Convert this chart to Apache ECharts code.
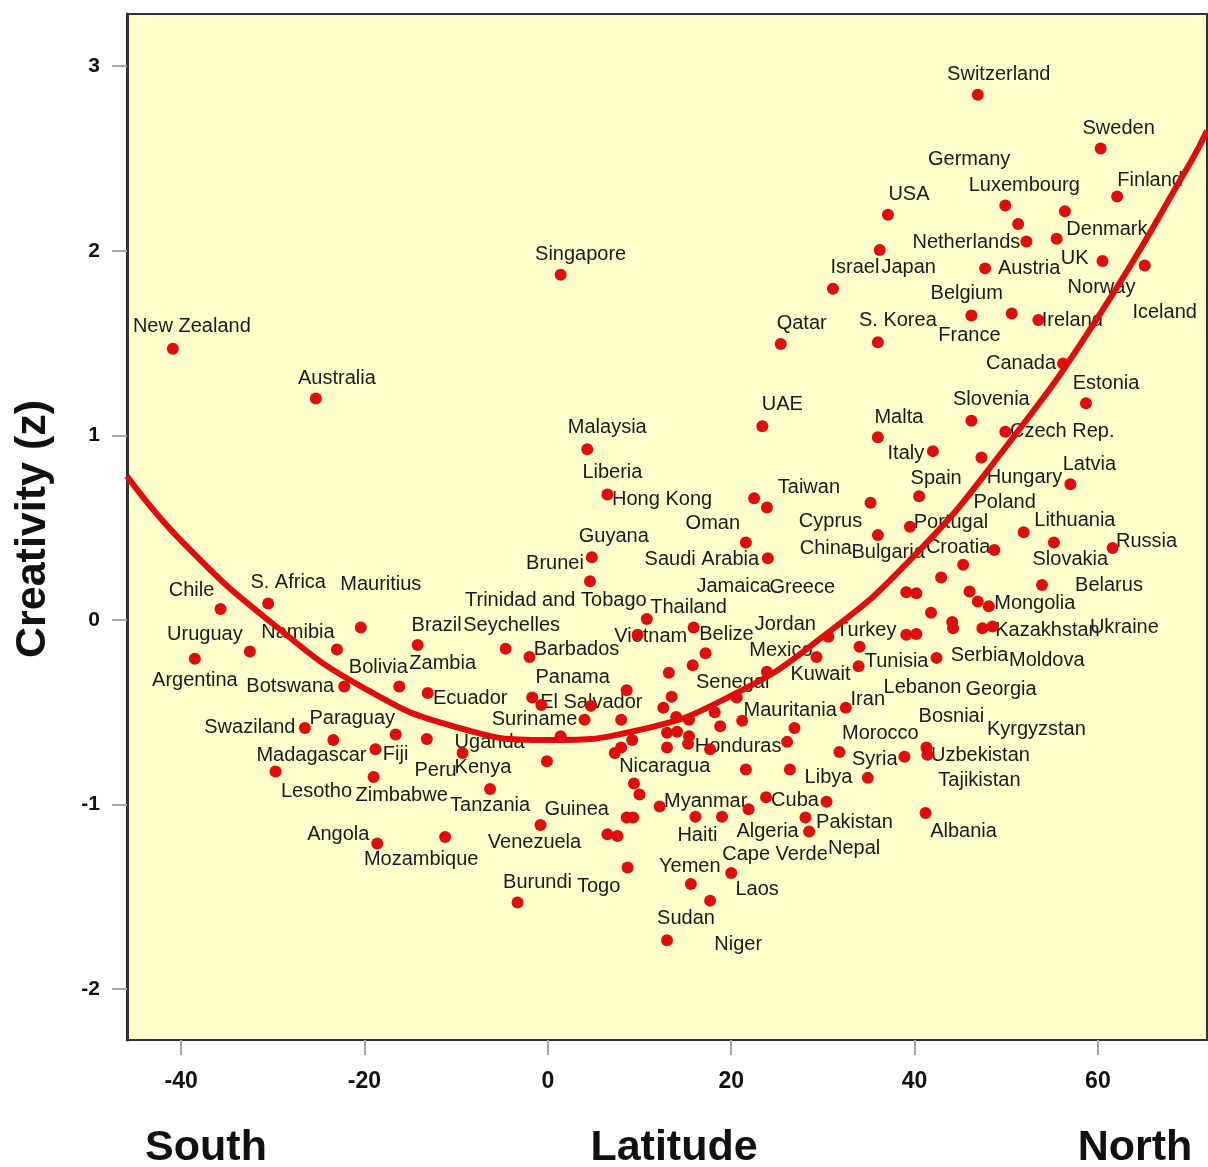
<!DOCTYPE html>
<html>
<head>
<meta charset="utf-8">
<script src="https://cdn.jsdelivr.net/npm/echarts@6/dist/echarts.min.js"></script>
<style>
html,body{margin:0;padding:0;background:#fff;}
#chart{width:1208px;height:1167px;}
</style>
</head>
<body>
<div id="chart"></div>
<script>
// ---------- data (latitude, creativity z) ----------
const xTicks = [-40, -20, 0, 20, 40, 60];
const yTicks = [-2, -1, 0, 1, 2, 3];

const southern = [
  ['New Zealand', -40.9, 1.47], ['Australia', -25.3, 1.20], ['Chile', -35.7, 0.06],
  ['S. Africa', -30.5, 0.09], ['Mauritius', -20.4, -0.04], ['Argentina', -38.5, -0.21],
  ['Uruguay', -32.5, -0.17], ['Namibia', -23.0, -0.16], ['Brazil', -14.2, -0.135],
  ['Botswana', -22.2, -0.36], ['Bolivia', -16.2, -0.36], ['Zambia', -13.1, -0.395],
  ['Swaziland', -26.5, -0.585], ['Paraguay', -23.4, -0.65], ['Fiji', -16.6, -0.62],
  ['', -13.2, -0.645], ['Madagascar', -18.8, -0.70], ['Lesotho', -29.7, -0.82],
  ['Zimbabwe', -19.0, -0.85], ['Angola', -18.6, -1.21], ['Mozambique', -11.2, -1.175],
  ['Peru', -9.3, -0.72], ['Tanzania', -6.3, -0.915], ['Burundi', -3.3, -1.53],
  ['Venezuela', -0.8, -1.11], ['Seychelles', -4.6, -0.155], ['Barbados', -2.0, -0.20],
  ['Ecuador', -1.7, -0.42], ['', -0.7, -0.46], ['Kenya', -0.1, -0.765]
];

const tropics = [
  ['Singapore', 1.4, 1.87], ['Uganda', 1.4, -0.63], ['Suriname', 4.0, -0.54],
  ['', 4.7, -0.465], ['Guyana', 4.8, 0.34], ['Brunei', 4.6, 0.21],
  ['Malaysia', 4.3, 0.925], ['Liberia', 6.5, 0.68], ['Trinidad and Tobago', 10.8, 0.005],
  ['Thailand', 15.9, -0.04], ['Vietnam', 9.8, -0.08], ['Belize', 17.2, -0.18],
  ['Jamaica', 15.8, -0.245], ['', 13.2, -0.285], ['Panama', 8.6, -0.38],
  ['', 13.5, -0.415], ['El Salvador', 12.6, -0.475], ['', 8.0, -0.54],
  ['', 14.0, -0.525], ['', 15.4, -0.54], ['', 18.2, -0.50],
  ['Senegal', 20.6, -0.42], ['', 18.8, -0.575], ['Mauritania', 21.2, -0.545],
  ['', 13.0, -0.61], ['', 14.1, -0.605], ['', 15.4, -0.63],
  ['', 15.3, -0.67], ['Honduras', 17.7, -0.70], ['', 13.0, -0.69],
  ['', 9.2, -0.65], ['', 8.0, -0.69], ['Nicaragua', 7.3, -0.72],
  ['', 9.4, -0.885], ['', 10.0, -0.945], ['Myanmar', 12.2, -1.01],
  ['Guinea', 8.6, -1.07], ['', 9.3, -1.07], ['Haiti', 16.1, -1.065],
  ['Cape Verde', 19.0, -1.065], ['', 6.5, -1.16], ['', 7.6, -1.17],
  ['Togo', 8.7, -1.34], ['Niger', 20.0, -1.37], ['Yemen', 15.6, -1.43],
  ['Laos', 17.7, -1.52], ['Sudan', 13.0, -1.735], ['Hong Kong', 22.5, 0.66],
  ['Taiwan', 23.9, 0.61], ['Oman', 21.6, 0.42], ['Saudi Arabia', 24.0, 0.335],
  ['UAE', 23.4, 1.05], ['Qatar', 25.4, 1.495], ['Mexico', 23.9, -0.28],
  ['', 21.6, -0.81], ['Cuba', 23.8, -0.96], ['Algeria', 21.9, -1.025]
];

const middle = [
  ['Kuwait', 29.3, -0.20], ['Jordan', 30.6, -0.09], ['Turkey', 39.1, -0.08],
  ['Bosniai', 40.2, -0.075], ['Lebanon', 34.0, -0.145], ['Tunisia', 33.9, -0.25],
  ['Serbia', 42.4, -0.205], ['Iran', 32.5, -0.475], ['', 26.9, -0.585],
  ['', 26.1, -0.66], ['Morocco', 31.8, -0.715], ['Tajikistan', 38.9, -0.74],
  ['Uzbekistan', 41.3, -0.69], ['Kyrgyzstan', 41.4, -0.73], ['', 26.4, -0.81],
  ['Syria', 34.9, -0.855], ['Libya', 30.4, -0.985], ['Pakistan', 28.1, -1.07],
  ['Nepal', 28.5, -1.145], ['Albania', 41.2, -1.045], ['Cyprus', 35.2, 0.635],
  ['China', 36.0, 0.46], ['Israel', 31.1, 1.795], ['Japan', 36.2, 2.005],
  ['USA', 37.1, 2.195], ['S. Korea', 36.0, 1.505], ['Malta', 36.0, 0.99]
];

const europe = [
  ['Italy', 42.0, 0.915], ['Spain', 40.5, 0.67], ['Portugal', 39.5, 0.505],
  ['Bulgaria', 42.9, 0.23], ['Croatia', 45.3, 0.30], ['Slovakia', 48.7, 0.38],
  ['Greece', 39.1, 0.15], ['', 40.2, 0.145], ['', 46.0, 0.155],
  ['Moldova', 46.9, 0.10], ['Mongolia', 48.1, 0.075], ['Georgia', 41.8, 0.04],
  ['', 44.1, -0.01], ['', 44.2, -0.045], ['Ukraine', 47.4, -0.045],
  ['Kazakhstan', 48.5, -0.035], ['Slovenia', 46.2, 1.08], ['Hungary', 47.3, 0.88],
  ['Czech Rep.', 49.9, 1.02], ['Poland', 51.9, 0.475], ['Lithuania', 55.2, 0.42],
  ['Russia', 61.6, 0.39], ['Belarus', 53.9, 0.19], ['Latvia', 57.0, 0.735],
  ['Estonia', 58.7, 1.175], ['Canada', 56.2, 1.39], ['Switzerland', 46.9, 2.845],
  ['Sweden', 60.3, 2.555], ['Finland', 62.1, 2.295], ['Luxembourg', 49.9, 2.245],
  ['Germany', 51.3, 2.145], ['Denmark', 56.4, 2.215], ['Netherlands', 52.2, 2.05],
  ['UK', 55.5, 2.065], ['Norway', 60.5, 1.945], ['Iceland', 65.1, 1.92],
  ['Austria', 47.7, 1.905], ['Belgium', 50.6, 1.66], ['France', 46.2, 1.65],
  ['Ireland', 53.5, 1.625]
];

// quadratic fit curve
const curveLat = [-45.9, -40, -30, -20, -10, 0, 10, 20, 30, 40, 50, 60, 70, 71.9];
const curveZ   = [0.78, 0.43, -0.02, -0.37, -0.58, -0.65, -0.595, -0.41, -0.09, 0.35, 0.94, 1.64, 2.47, 2.65];

// ---------- label placement (pixel offsets from the dot) ----------
const labelOffsets = {
  'New Zealand':[19,-22],'Australia':[21,-20],'Singapore':[20,-20],'Chile':[-29,-18],
  'S. Africa':[20,-21],'Mauritius':[20,-43],'Argentina':[0,22],'Uruguay':[-45,-17],
  'Namibia':[-39,-17],'Brazil':[19,-19],'Botswana':[-54,0],'Bolivia':[-21,-19],
  'Zambia':[15,-29],'Swaziland':[-55,-1],'Paraguay':[19,-22],'Fiji':[0,20],
  'Madagascar':[-64,6],'Lesotho':[41,20],'Zimbabwe':[28,19],'Angola':[-39,-9],
  'Mozambique':[-24,23],'Peru':[-27,18],'Tanzania':[0,17],'Burundi':[20,-20],
  'Venezuela':[-6,18],'Seychelles':[6,-23],'Barbados':[47,-7],'Ecuador':[-62,1],
  'Kenya':[-64,6],'Uganda':[-71,6],'Suriname':[-50,0],'Guyana':[22,-21],
  'Brunei':[-35,-18],'Malaysia':[20,-22],'Liberia':[5,-22],'Trinidad and Tobago':[-91,-19],
  'Thailand':[-5,-20],'Vietnam':[13,2],'Belize':[21,-19],'Jamaica':[41,-79],
  'Panama':[-54,-13],'El Salvador':[-72,-5],'Senegal':[-4,-15],'Mauritania':[48,-10],
  'Honduras':[28,-3],'Nicaragua':[50,14],'Myanmar':[46,-5],'Guinea':[-50,-8],
  'Haiti':[2,19],'Cape Verde':[53,38],'Togo':[-29,19],'Niger':[7,72],
  'Yemen':[-1,-18],'Laos':[47,-11],'Sudan':[19,-22],'Hong Kong':[-92,1],
  'Taiwan':[42,-20],'Oman':[-33,-19],'Saudi Arabia':[-66,1],'UAE':[20,-22],
  'Qatar':[21,-21],'Mexico':[14,-21],'Cuba':[29,3],'Algeria':[19,22],
  'Kuwait':[4,18],'Jordan':[-43,-12],'Turkey':[-40,-4],'Bosniai':[35,83],
  'Lebanon':[63,41],'Tunisia':[38,-5],'Serbia':[43,-2],'Iran':[22,-8],
  'Morocco':[41,-19],'Tajikistan':[75,24],'Uzbekistan':[54,8],'Kyrgyzstan':[109,-25],
  'Syria':[7,-18],'Libya':[2,-24],'Pakistan':[49,5],'Nepal':[45,17],
  'Albania':[38,19],'Cyprus':[-40,19],'China':[-52,13],'Israel':[22,-21],
  'Japan':[29,18],'USA':[21,-20],'S. Korea':[20,-22],'Malta':[21,-20],
  'Italy':[-27,2],'Spain':[17,-18],'Portugal':[41,-4],'Bulgaria':[-53,-25],
  'Croatia':[-5,-17],'Slovakia':[76,10],'Greece':[-104,-5],'Moldova':[69,59],
  'Mongolia':[46,-3],'Georgia':[70,77],'Ukraine':[142,-1],'Kazakhstan':[55,4],
  'Slovenia':[20,-21],'Hungary':[43,20],'Czech Rep.':[57,0],'Poland':[-19,-30],
  'Lithuania':[21,-22],'Russia':[34,-7],'Belarus':[67,1],'Latvia':[19,-20],
  'Estonia':[20,-20],'Canada':[-42,0],'Switzerland':[21,-20],'Sweden':[18,-20],
  'Finland':[33,-16],'Luxembourg':[19,-20],'Germany':[-49,-65],'Denmark':[42,18],
  'Netherlands':[-60,1],'UK':[18,20],'Norway':[-1,26],'Iceland':[20,47],
  'Austria':[44,0],'Belgium':[-45,-20],'France':[-2,20],'Ireland':[34,0]
};

const allPoints = southern.concat(tropics, middle, europe);
const RED = '#e00d0d';
const FONT = "'Liberation Sans', Arial, sans-serif";

const chart = echarts.init(document.getElementById('chart'), null, {renderer: 'canvas'});
chart.setOption({
  animation: false,
  backgroundColor: '#ffffff',
  grid: {
    left: 127, right: 1, top: 14, bottom: 127,
    show: true, backgroundColor: '#ffffcc', borderColor: '#333333', borderWidth: 2
  },
  xAxis: {
    type: 'value', min: -45.9, max: 71.9,
    axisLine: {show: false, onZero: false},
    splitLine: {show: false},
    axisTick: {show: true, customValues: xTicks, length: 15, lineStyle: {color: '#a8a8a8', width: 2}},
    axisLabel: {customValues: xTicks, margin: 30, color: '#111', fontWeight: 'bold',
      fontSize: 23, fontFamily: "'Liberation Sans Narrow', 'Arial Narrow', " + FONT}
  },
  yAxis: {
    type: 'value', min: -2.275, max: 3.283,
    axisLine: {show: true, onZero: false, lineStyle: {color: '#333333', width: 3}},
    splitLine: {show: false},
    axisTick: {show: true, customValues: yTicks, length: 15, lineStyle: {color: '#a8a8a8', width: 2}},
    axisLabel: {customValues: yTicks, margin: 27, color: '#111', fontWeight: 'bold',
      fontSize: 21, fontFamily: FONT}
  },
  graphic: [
    {type: 'text', x: 33, y: 529, rotation: Math.PI / 2,
      style: {text: 'Creativity (z)', font: "bold 43px " + FONT, fill: '#111', textAlign: 'center', textVerticalAlign: 'middle'}},
    {type: 'text', x: 206, y: 1148,
      style: {text: 'South', font: "bold 43px " + FONT, fill: '#111', textAlign: 'center', textVerticalAlign: 'middle'}},
    {type: 'text', x: 674, y: 1148,
      style: {text: 'Latitude', font: "bold 43px " + FONT, fill: '#111', textAlign: 'center', textVerticalAlign: 'middle'}},
    {type: 'text', x: 1135, y: 1148,
      style: {text: 'North', font: "bold 43px " + FONT, fill: '#111', textAlign: 'center', textVerticalAlign: 'middle'}}
  ],
  series: [
    {
      name: 'labels', type: 'scatter', z: 1, silent: true,
      symbolSize: 1, itemStyle: {color: 'transparent', opacity: 1},
      data: allPoints.filter(p => p[0]).map(p => ({
        name: p[0], value: [p[1], p[2]],
        label: {offset: labelOffsets[p[0]] || [0, -20]}
      })),
      label: {show: true, position: 'inside', formatter: '{b}', color: '#1a1a1a', opacity: 1,
        fontSize: 20, fontFamily: FONT}
    },
    {
      name: 'fit', type: 'line', z: 2, silent: true, smooth: true, showSymbol: false,
      data: curveLat.map((x, i) => [x, curveZ[i]]),
      lineStyle: {color: RED, width: 6, opacity: 1}
    },
    {
      name: 'countries', type: 'scatter', z: 3, symbolSize: 12,
      itemStyle: {color: RED, opacity: 1},
      data: allPoints.map(p => ({name: p[0], value: [p[1], p[2]]}))
    }
  ]
});
</script>
</body>
</html>
